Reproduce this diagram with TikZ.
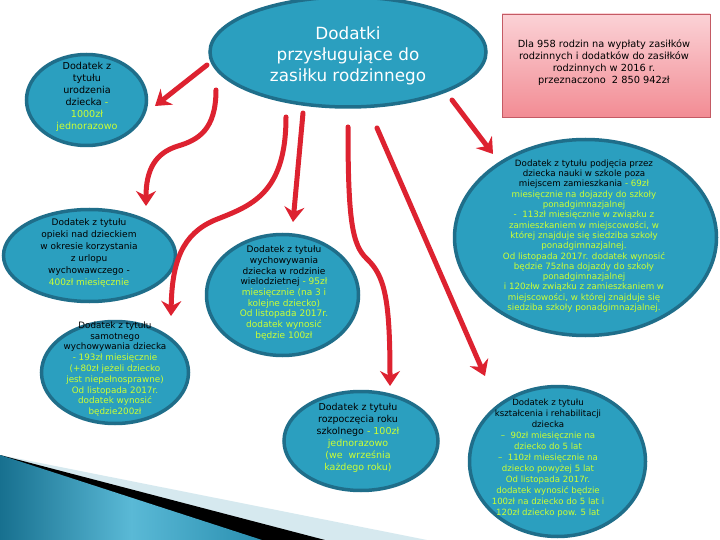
\documentclass[tikz,border=0pt]{standalone}
\usepackage{fontspec}
\setmainfont{DejaVu Sans}
\usetikzlibrary{shapes.geometric,arrows.meta}
\definecolor{ellfill}{HTML}{2B9FBF}
\definecolor{ellline}{HTML}{1F6E8A}
\definecolor{hl}{HTML}{CCFF33}
\definecolor{arr}{HTML}{DD2230}
\definecolor{pinktop}{HTML}{FBD2D6}
\definecolor{pinkbot}{HTML}{F28C94}
\definecolor{pinkline}{HTML}{C45A64}
\definecolor{tealdark}{HTML}{17708F}
\definecolor{teallight}{HTML}{5AB9D6}
\definecolor{tealmid}{HTML}{2A8FB0}
\definecolor{paleblue}{HTML}{D6E9EF}
\newcommand{\grn}[1]{\textcolor{hl}{#1}}
\begin{document}
\begin{tikzpicture}[x=1pt,y=-1pt,
  ell/.style={ellipse,draw=ellline,fill=ellfill,line width=3.5pt,inner sep=0pt},
  txt/.style={align=center,inner sep=0pt,text=black},
  redarrow/.style={draw=arr,line width=5pt,line cap=round,-{Stealth[length=15pt,width=20pt,inset=5pt]}},
]
\useasboundingbox (0,0) rectangle (720,540);
\fill[white] (0,0) rectangle (720,540);

% bottom-left decoration
\fill[paleblue] (0,455) -- (427,540) -- (0,540) -- cycle;
\fill[black] (0,455) -- (325,540) -- (0,540) -- cycle;
\shade[left color=tealdark,right color=tealmid,middle color=teallight] (0,455) -- (262,540) -- (0,540) -- cycle;

% ellipses
\node[ell,minimum width=276pt,minimum height=110pt] (main) at (348,52) {};
\node[ell,minimum width=120pt,minimum height=91pt] (birth) at (86.5,100) {};
\node[ell,minimum width=172pt,minimum height=92pt] (care) at (89.5,255.5) {};
\node[ell,minimum width=147pt,minimum height=102pt] (single) at (115,372.5) {};
\node[ell,minimum width=152pt,minimum height=121pt] (large) at (282.5,295) {};
\node[ell,minimum width=154pt,minimum height=99pt] (school) at (361,441) {};
\node[ell,minimum width=262pt,minimum height=196pt] (away) at (585.5,237.5) {};
\node[ell,minimum width=176pt,minimum height=150pt] (rehab) at (557.5,461.5) {};

% pink box
\node[draw=pinkline,line width=0.8pt,top color=pinktop,bottom color=pinkbot,minimum width=208pt,minimum height=103pt,inner sep=0pt] (info) at (606,65.5) {};

% texts
\node[txt,text=white,font=\fontsize{16.8}{21}\selectfont] (maint) at (348,56) {Dodatki\\przysługujące do\\zasiłku rodzinnego};
\node[txt,font=\fontsize{9.8}{12}\selectfont] (infot) at (604,63) {Dla 958 rodzin na wypłaty zasiłków\\rodzinnych i dodatków do zasiłków\\rodzinnych w 2016 r.\\przeznaczono\ \ 2 850 942zł};
\node[txt,font=\fontsize{9.6}{12}\selectfont] (birtht) at (87,97) {Dodatek z\\tytułu\\urodzenia\\dziecka \grn{-}\\\grn{1000zł}\\\grn{jednorazowo}};
\node[txt,font=\fontsize{9}{12}\selectfont] (caret) at (89,253) {Dodatek z tytułu\\opieki nad dzieckiem\\w okresie korzystania\\z urlopu\\wychowawczego -\\\grn{400zł miesięcznie}};
\node[txt,font=\fontsize{8.8}{10.8}\selectfont] (singlet) at (115,369) {Dodatek z tytułu\\samotnego\\wychowywania dziecka\\\grn{- 193zł miesięcznie}\\\grn{(+80zł jeżeli dziecko}\\\grn{jest niepełnosprawne)}\\\grn{Od listopada 2017r.}\\\grn{dodatek wynosić}\\\grn{będzie200zł}};
\node[txt,font=\fontsize{9}{10.7}\selectfont] (larget) at (284,293) {Dodatek z tytułu\\wychowywania\\dziecka w rodzinie\\wielodzietnej \grn{- 95zł}\\\grn{miesięcznie (na 3 i}\\\grn{kolejne dziecko)}\\\grn{Od listopada 2017r.}\\\grn{dodatek wynosić}\\\grn{będzie 100zł}};
\node[txt,font=\fontsize{9.5}{12}\selectfont] (schoolt) at (358,438) {Dodatek z tytułu\\rozpoczęcia roku\\szkolnego \grn{- 100zł}\\\grn{jednorazowo}\\\grn{(we\ \ września}\\\grn{każdego roku)}};
\node[txt,font=\fontsize{8.7}{10.3}\selectfont] (awayt) at (584,236) {Dodatek z tytułu podjęcia przez\\dziecka nauki w szkole poza\\miejscem zamieszkania \grn{- 69zł}\\\grn{miesięcznie na dojazdy do szkoły}\\\grn{ponadgimnazjalnej}\\\grn{-\ \ 113zł miesięcznie w związku z}\\\grn{zamieszkaniem w miejscowości, w}\\\grn{której znajduje się siedziba szkoły}\\\grn{ponadgimnazjalnej.}\\\grn{Od listopada 2017r. dodatek wynosić}\\\grn{będzie 75złna dojazdy do szkoły}\\\grn{ponadgimnazjalnej}\\\grn{i 120złw związku z zamieszkaniem w}\\\grn{miejscowości, w której znajduje się}\\\grn{siedziba szkoły ponadgimnazjalnej.}};
\node[txt,font=\fontsize{8.6}{11}\selectfont] (rehabt) at (548,458) {Dodatek z tytułu\\kształcenia i rehabilitacji\\dziecka\\\grn{–\ \ 90zł miesięcznie na}\\\grn{dziecko do 5 lat}\\\grn{–\ \ 110zł miesięcznie na}\\\grn{dziecko powyżej 5 lat}\\\grn{Od listopada 2017r.}\\\grn{dodatek wynosić będzie}\\\grn{100zł na dziecko do 5 lat i}\\\grn{120zł dziecko pow. 5 lat}};

% arrow endpoints
\coordinate (s1) at (207,65);   \coordinate (e1) at (155,106);
\coordinate (s2) at (216,90);   \coordinate (e2) at (146,206);
\coordinate (s3) at (286,117);  \coordinate (e3) at (171,316);
\coordinate (s4) at (303,113);  \coordinate (e4) at (293,222);
\coordinate (s5) at (348,127);  \coordinate (e5) at (390,386);
\coordinate (s6) at (377,128);  \coordinate (e6) at (485,376);
\coordinate (s7) at (452,100);  \coordinate (e7) at (493,154);

\draw[redarrow] (s1) -- (e1);
\draw[redarrow] (s2) .. controls (216,130) and (198,140) .. (178,146) .. controls (155,153) and (146,170) .. (e2);
\draw[redarrow] (s3) .. controls (286,195) and (250,206) .. (215,220) .. controls (182,234) and (172,262) .. (e3);
\draw[redarrow] (s4) -- (e4);
\draw[redarrow] (s5) .. controls (348,220) and (352,245) .. (367,259) .. controls (385,276) and (390,300) .. (e5);
\draw[redarrow] (s6) -- (e6);
\draw[redarrow] (s7) -- (e7);
\end{tikzpicture}
\end{document}
